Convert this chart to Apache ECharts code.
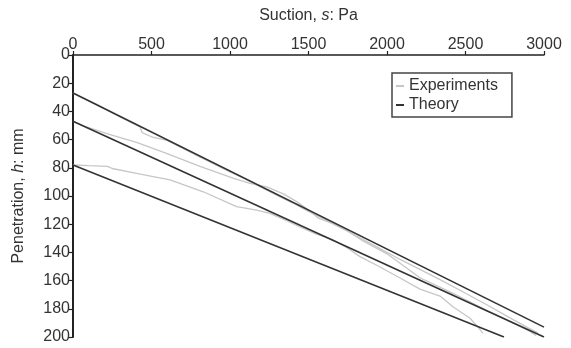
<!DOCTYPE html>
<html>
<head>
<meta charset="utf-8">
<script src="https://cdn.jsdelivr.net/npm/echarts@6/dist/echarts.min.js"></script>
<style>
  html, body { margin: 0; padding: 0; background: #fff; }
  #chart { width: 571px; height: 348px; }
</style>
</head>
<body>
<div id="chart"></div>
<script>
// axis ranges
const suctionMin = 0, suctionMax = 3000, suctionStep = 500;
const penetrationMin = 0, penetrationMax = 200, penetrationStep = 20;

// theory: straight lines [suction Pa, penetration mm]
const theoryA = [[0, 27], [3000, 193]];
const theoryB = [[0, 47], [3000, 200]];
const theoryC = [[0, 78], [2745, 200]];

// experiments
const expA = [[0, 27], [150, 35], [300, 44], [427, 51], [440, 55], [500, 58], [600, 60.5],
  [800, 72], [1000, 83], [1100, 88], [1200, 94], [1300, 99.5], [1400, 105], [1500, 111],
  [1650, 119], [1800, 128], [1950, 137], [2083, 145], [2200, 151.5], [2350, 160],
  [2500, 169], [2650, 178], [2800, 187.5], [2900, 193.5], [2960, 197]];
const expB = [[0, 47], [60, 50], [236, 56.5], [405, 62], [600, 70], [809, 79], [1019, 87.4],
  [1127, 91], [1234, 93.5], [1340, 98.5], [1425, 104], [1500, 110], [1560, 115.5],
  [1650, 119.5], [1743, 124.5], [1850, 132], [2000, 141], [2210, 158], [2420, 169],
  [2635, 181], [2783, 189], [2911, 196], [2950, 199]];
const expC = [[0, 78], [100, 78.5], [220, 79], [250, 80.5], [405, 84], [618, 88.6], [830, 97],
  [1042, 107.6], [1170, 110], [1255, 112.3], [1350, 117], [1446, 122], [1550, 127],
  [1656, 131], [1750, 137], [1828, 143], [1950, 150], [2080, 158], [2210, 166],
  [2338, 171], [2420, 178.5], [2529, 186.7], [2580, 193], [2611, 197.5]];

const font = 'Liberation Sans, Arial, sans-serif';
const ink = '#333';
const fs = 16;

function lineSeries(name, data, color, width, z) {
  return {
    name: name,
    type: 'line',
    data: data,
    symbol: 'none',
    smooth: false,
    z: z,
    lineStyle: { color: color, width: width },
    itemStyle: { color: color },
    emphasis: { disabled: true }
  };
}

const titleRich = {
  n: { fontFamily: font, fontSize: fs, color: ink },
  i: { fontFamily: font, fontSize: fs, color: ink, fontStyle: 'italic' }
};

const chart = echarts.init(document.getElementById('chart'));
chart.setOption({
  animation: false,
  backgroundColor: '#fff',
  grid: { left: 73, right: 27, top: 55, bottom: 11 },
  legend: {
    data: ['Experiments', 'Theory'],
    orient: 'vertical',
    left: 392,
    top: 73,
    padding: [5, 14, 4, 4],
    itemGap: 3,
    itemWidth: 8,
    itemHeight: 2,
    icon: 'rect',
    borderColor: '#444',
    borderWidth: 1.5,
    textStyle: { fontFamily: font, fontSize: fs, color: ink, padding: [0, 0, 0, 0] }
  },
  xAxis: {
    type: 'value',
    position: 'top',
    min: suctionMin,
    max: suctionMax,
    interval: suctionStep,
    name: '{n|Suction, }{i|s}{n|: Pa}',
    nameLocation: 'middle',
    nameGap: 31,
    nameTextStyle: { rich: titleRich },
    axisLine: { lineStyle: { color: '#222', width: 1.5 } },
    axisTick: { length: 4, lineStyle: { color: '#222', width: 1.2 } },
    axisLabel: { fontFamily: font, fontSize: fs, color: ink, margin: 2,
      formatter: function (v) { return String(v); } },
    splitLine: { show: false }
  },
  yAxis: {
    type: 'value',
    inverse: true,
    min: penetrationMin,
    max: penetrationMax,
    interval: penetrationStep,
    name: '{n|Penetration, }{i|h}{n|: mm}',
    nameLocation: 'middle',
    nameGap: 46,
    nameTextStyle: { rich: titleRich },
    axisLine: { lineStyle: { color: '#222', width: 2 } },
    axisTick: { length: 4, lineStyle: { color: '#222', width: 1.2 } },
    axisLabel: { fontFamily: font, fontSize: fs, color: ink, margin: 3 },
    splitLine: { show: false }
  },
  series: [
    lineSeries('Experiments', expA, '#c6c6c6', 1.3, 2),
    lineSeries('Experiments', expB, '#c6c6c6', 1.3, 2),
    lineSeries('Experiments', expC, '#c6c6c6', 1.3, 2),
    lineSeries('Theory', theoryA, '#333', 1.6, 3),
    lineSeries('Theory', theoryB, '#333', 1.6, 3),
    lineSeries('Theory', theoryC, '#333', 1.6, 3)
  ]
});
</script>
</body>
</html>
